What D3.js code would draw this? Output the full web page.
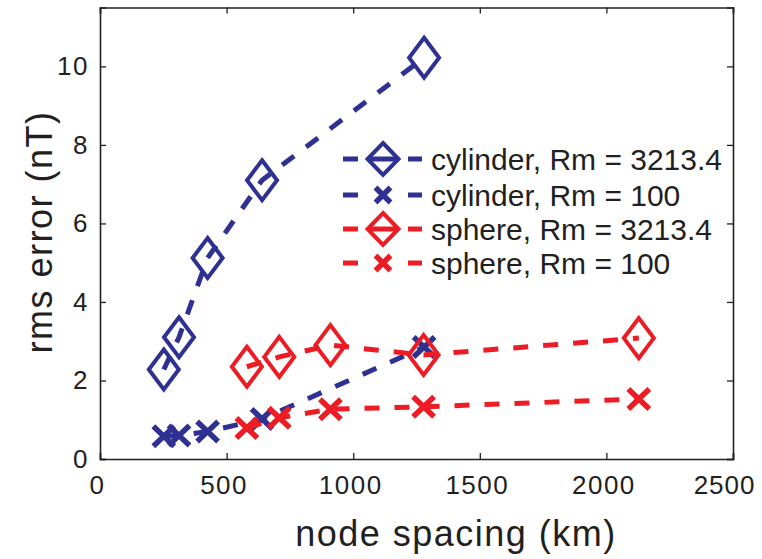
<!DOCTYPE html>
<html><head><meta charset="utf-8">
<script src="https://cdn.jsdelivr.net/npm/d3@7"></script>
<style>body{margin:0;background:#fff}svg{display:block}text{font-family:"Liberation Sans",Arial,sans-serif;fill:#231f20}</style>
</head><body>
<script>
const cylX = [252, 312, 425, 640, 1280];
const cylRm3213 = [2.28, 3.1, 5.12, 7.1, 10.22];
const cylRm100 = [0.58, 0.6, 0.7, 1.02, 2.85];
const sphX = [580, 708, 910, 1278, 2128];
const sphRm3213 = [2.35, 2.6, 2.9, 2.65, 3.08];
const sphRm100 = [0.79, 1.05, 1.27, 1.33, 1.53];
const xTicks = [0, 500, 1000, 1500, 2000, 2500];
const yTicks = [0, 2, 4, 6, 8, 10];
const seriesNames = ["cylinder, Rm = 3213.4", "cylinder, Rm = 100", "sphere, Rm = 3213.4", "sphere, Rm = 100"];

const BLUE = "#2e3192", RED = "#ed1c24", INK = "#231f20";
const W = 762, H = 559;
const L = 100, R = 733, T = 7.5, B = 459;
const svg = d3.select("body").append("svg").attr("width", W).attr("height", H);
const x = d3.scaleLinear().domain([0, 2500]).range([L, R]);
const y = d3.scaleLinear().domain([0, 11.5]).range([B, T]);

const series = [
  {name: seriesNames[0], xs: cylX, ys: cylRm3213, color: BLUE, marker: "diamond"},
  {name: seriesNames[1], xs: cylX, ys: cylRm100, color: BLUE, marker: "x"},
  {name: seriesNames[2], xs: sphX, ys: sphRm3213, color: RED, marker: "diamond"},
  {name: seriesNames[3], xs: sphX, ys: sphRm100, color: RED, marker: "x"}
];

const axB = d3.axisBottom(x).tickValues(xTicks).tickSize(-6).tickPadding(17).tickFormat(d3.format("d"));
const axL = d3.axisLeft(y).tickValues(yTicks).tickSize(-6).tickPadding(11).tickFormat(d3.format("d"));
const axT = d3.axisTop(x).tickValues(xTicks).tickSize(-6).tickFormat("");
const axR = d3.axisRight(y).tickValues(yTicks).tickSize(-6).tickFormat("");
function style(g){
  g.select(".domain").attr("stroke", INK).attr("stroke-width", 1.6);
  g.selectAll(".tick line").attr("stroke", INK).attr("stroke-width", 1.3);
  g.selectAll(".tick text").attr("font-size", 26).attr("letter-spacing", "1.5px").attr("fill", INK)
    .attr("font-family", '"Liberation Sans",Arial,sans-serif');
}
const gx = svg.append("g").attr("transform", `translate(0,${B})`).call(axB).call(style);
gx.selectAll(".tick text").attr("dx", -3);
gx.selectAll(".tick text").filter(d => d === 2500).attr("text-anchor", "end").attr("x", 22).attr("dx", 0).attr("letter-spacing", "1px");
svg.append("g").attr("transform", `translate(${L},0)`).call(axL).call(style);
svg.append("g").attr("transform", `translate(0,${T})`).call(axT).call(style);
svg.append("g").attr("transform", `translate(${R},0)`).call(axR).call(style);

function drawMarker(g, type, cx, cy, color, w, h){
  if (type === "diamond") {
    g.append("path").attr("d", `M${cx},${cy-h/2}L${cx+w/2},${cy}L${cx},${cy+h/2}L${cx-w/2},${cy}Z`)
      .attr("fill", "none").attr("stroke", color).attr("stroke-width", 4).attr("stroke-linejoin", "miter");
  } else {
    g.append("path").attr("d", `M${cx-w/2},${cy-h/2}L${cx+w/2},${cy+h/2}M${cx-w/2},${cy+h/2}L${cx+w/2},${cy-h/2}`)
      .attr("fill", "none").attr("stroke", color).attr("stroke-width", 5.5);
  }
}

const line = d3.line().x(d => x(d[0])).y(d => y(d[1]));
series.forEach(s => {
  const g = svg.append("g");
  const pts = s.xs.map((v, i) => [v, s.ys[i]]);
  g.append("path").attr("d", line(pts)).attr("fill", "none").attr("stroke", s.color)
    .attr("stroke-width", 5).attr("stroke-dasharray", "15,15");
  pts.forEach(p => {
    if (s.marker === "diamond") drawMarker(g, "diamond", x(p[0]), y(p[1]), s.color, 30, 40);
    else drawMarker(g, "x", x(p[0]), y(p[1]), s.color, 21, 20);
  });
});

const legY = [159, 195, 229, 263];
series.forEach((s, i) => {
  const g = svg.append("g");
  const yy = legY[i];
  g.append("line").attr("x1", 343).attr("x2", 358).attr("y1", yy).attr("y2", yy).attr("stroke", s.color).attr("stroke-width", 5);
  g.append("line").attr("x1", 408).attr("x2", 422).attr("y1", yy).attr("y2", yy).attr("stroke", s.color).attr("stroke-width", 5);
  if (s.marker === "diamond") {
    g.append("line").attr("x1", 370).attr("x2", 396).attr("y1", yy).attr("y2", yy).attr("stroke", s.color).attr("stroke-width", 5);
    drawMarker(g, "diamond", 383, yy, s.color, 31, 32);
  } else {
    drawMarker(g, "x", 383, yy, s.color, 15, 15);
  }
  g.append("text").attr("x", 431).attr("y", yy).attr("dy", "0.35em").attr("font-size", 30).text(s.name);
});

svg.append("text").attr("x", 456).attr("y", 546).attr("text-anchor", "middle").attr("font-size", 36)
  .attr("letter-spacing", "1.5px").text("node spacing (km)");
svg.append("text").attr("transform", `translate(52,${232}) rotate(-90)`).attr("text-anchor", "middle").attr("font-size", 36)
  .attr("letter-spacing", "1.5px").text("rms error (nT)");
</script>
</body></html>
